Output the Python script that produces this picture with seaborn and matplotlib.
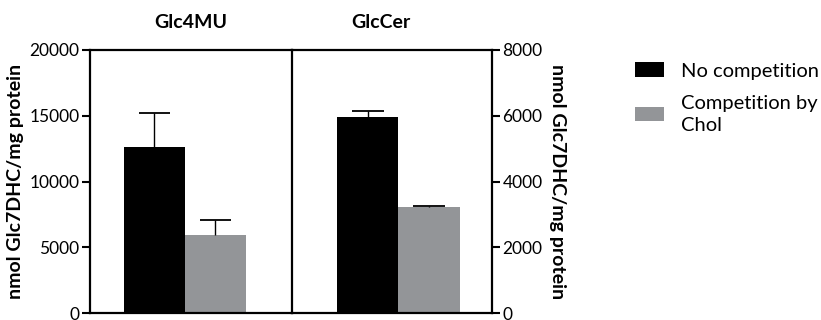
import numpy as np
import pandas as pd
import matplotlib
matplotlib.use("Agg")
import matplotlib.pyplot as plt
import seaborn as sns

# Measured amounts (nmol Glc7DHC / mg protein): mean and SD per condition
conditions = ["No competition", "Competition by\nChol"]
glc4mu_mean = [12600, 5950]
glc4mu_sd = [2600, 1150]
glccer_mean = [5950, 3230]
glccer_sd = [200, 15]

panel_titles = ["Glc4MU", "GlcCer"]
left_ticks = [0, 5000, 10000, 15000, 20000]
right_ticks = [0, 2000, 4000, 6000, 8000]
ylabel = "nmol Glc7DHC/mg protein"

colors = ["#000000", "#939598"]

sns.set_theme(style="ticks")
plt.rcParams["font.family"] = ["Lato", "DejaVu Sans"]
plt.rcParams["text.color"] = "black"
plt.rcParams["axes.labelcolor"] = "black"

fig = plt.figure(figsize=(8.21, 3.2), dpi=100)
W, H = 821, 320
ax_l = fig.add_axes([90 / W, 7 / H, 202 / W, 263 / H])
ax_r = fig.add_axes([292 / W, 7 / H, 200 / W, 263 / H])
ax_r.patch.set_visible(False)


def draw_panel(ax, title, means, sds, ymax):
    df = pd.DataFrame({"target": [title] * len(conditions),
                       "condition": conditions,
                       "value": means})
    sns.barplot(data=df, x="target", y="value", hue="condition",
                hue_order=conditions, palette=colors, errorbar=None,
                width=0.8, linewidth=0, saturation=1, ax=ax, legend=False)
    bars = [p for p in ax.patches if p.get_height() > 0]
    bars.sort(key=lambda p: p.get_x())
    # upper-only error bars: stem from bar top to mean + SD, cap on top
    for bar, m, s in zip(bars, means, sds):
        xc = bar.get_x() + bar.get_width() / 2
        half_cap = bar.get_width() * 0.26
        ax.plot([xc, xc], [m, m + s], color="black", lw=1.0, zorder=3,
                solid_capstyle="butt")
        ax.plot([xc - half_cap, xc + half_cap], [m + s, m + s],
                color="black", lw=1.3, zorder=3, solid_capstyle="butt")
    ax.set_ylim(0, ymax)
    ax.set_xlabel("")
    ax.set_ylabel("")
    ax.set_xticks([])
    for sp in ax.spines.values():
        sp.set_visible(True)
        sp.set_linewidth(1.6)
        sp.set_color("black")


draw_panel(ax_l, panel_titles[0], glc4mu_mean, glc4mu_sd, 20000)
draw_panel(ax_r, panel_titles[1], glccer_mean, glccer_sd, 8000)

ax_l.set_xlim(-0.623, 0.702)
ax_r.set_xlim(-0.698, 0.613)

ax_l.set_yticks(left_ticks)
ax_r.set_yticks(right_ticks)
ax_r.yaxis.tick_right()
ax_r.yaxis.set_label_position("right")
ax_r.spines["left"].set_visible(False)

for ax in (ax_l, ax_r):
    ax.tick_params(axis="y", direction="out", length=5.5, width=1.5,
                   labelsize=12.5, colors="black", pad=2)

ax_l.set_ylabel(ylabel, fontsize=14, fontweight="bold", labelpad=4)
ax_r.set_ylabel(ylabel, fontsize=14, fontweight="bold", rotation=270,
                labelpad=17)

ax_l.set_title(panel_titles[0], fontsize=14, fontweight="bold", pad=16,
               x=0.5)
ax_r.set_title(panel_titles[1], fontsize=14, fontweight="bold", pad=16,
               x=0.445)

# Legend
handles = [matplotlib.patches.Patch(facecolor=c, edgecolor="none")
           for c in colors]
leg = fig.legend(handles, conditions, loc="upper left",
                 bbox_to_anchor=(617 / W, 1 - 44 / H), frameon=False,
                 fontsize=14.5, handlelength=1.45, handleheight=0.75,
                 handletextpad=0.85, labelspacing=0.75)
for t in leg.get_texts():
    t.set_linespacing(1.35)

fig.savefig("out.png", dpi=100)
